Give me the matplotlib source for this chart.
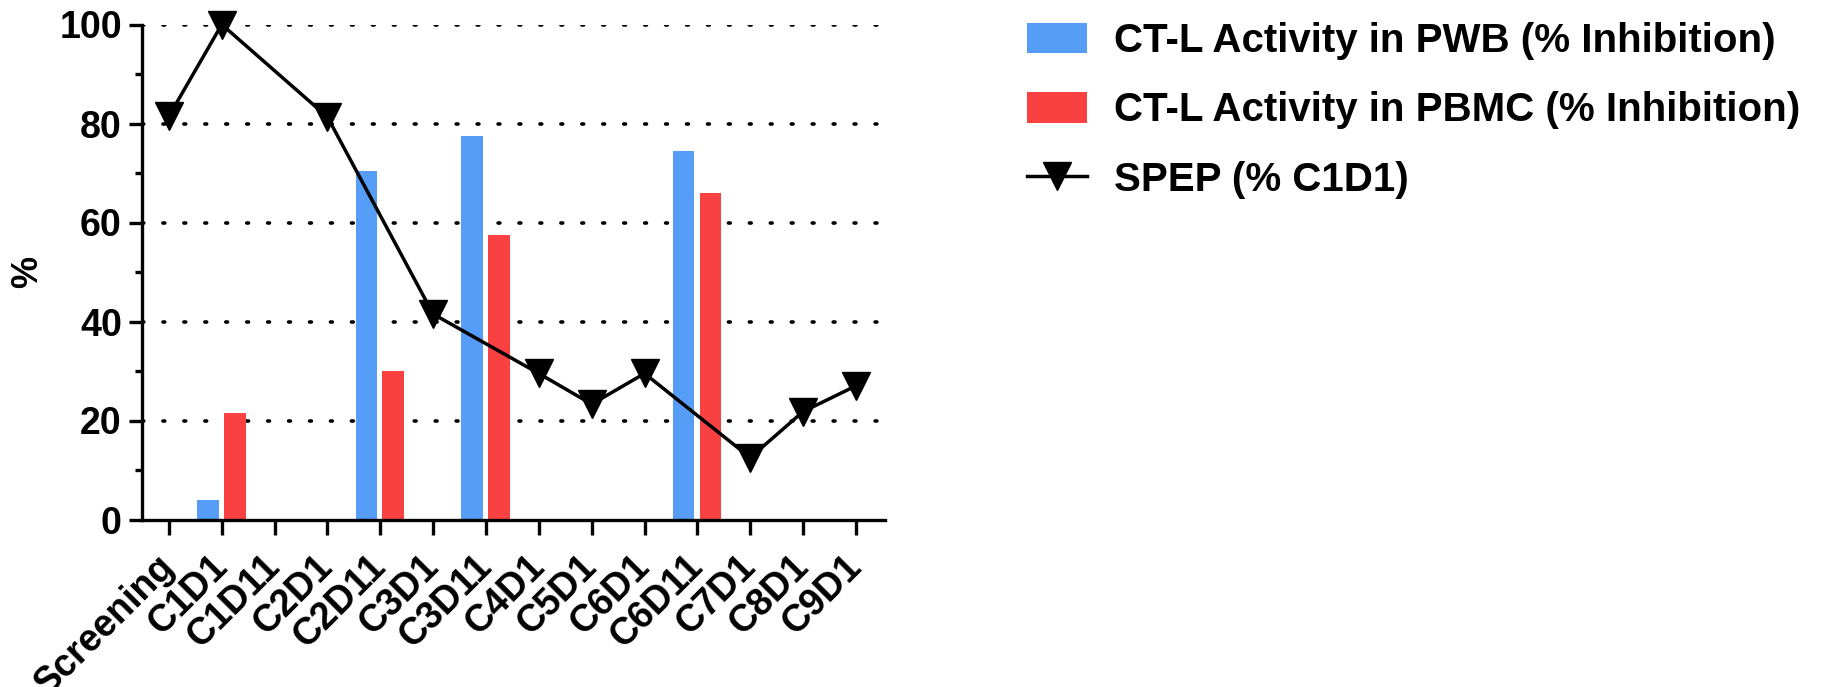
import numpy as np
import matplotlib
matplotlib.use("Agg")
import matplotlib.pyplot as plt
from matplotlib.ticker import MultipleLocator

plt.rcParams['font.family'] = ['Liberation Sans', 'DejaVu Sans']
plt.rcParams['font.weight'] = 'bold'

# ── data ──────────────────────────────────────
visits = ['Screening', 'C1D1', 'C1D11', 'C2D1', 'C2D11', 'C3D1', 'C3D11',
          'C4D1', 'C5D1', 'C6D1', 'C6D11', 'C7D1', 'C8D1', 'C9D1']
pwb  = [np.nan, 4.0, np.nan, np.nan, 70.5, np.nan, 77.4,
        np.nan, np.nan, np.nan, 74.4, np.nan, np.nan, np.nan]
pbmc = [np.nan, 21.5, np.nan, np.nan, 30.0, np.nan, 57.5,
        np.nan, np.nan, np.nan, 66.0, np.nan, np.nan, np.nan]
spep = [81.5, 100.0, np.nan, 81.3, np.nan, 41.5, np.nan,
        29.5, 23.3, 29.5, np.nan, 12.5, 21.8, 27.0]

BLUE = '#559DF7'
RED = '#F94142'

x = np.arange(len(visits))
pwb = np.array(pwb)
pbmc = np.array(pbmc)
spep = np.array(spep)

fig = plt.figure(figsize=(18.27, 6.87), dpi=100)
ax = fig.add_axes([142 / 1827, 1 - 519.5 / 687, 743 / 1827, 495 / 687])

# bars
bw = 0.41
b1 = ax.bar(x - 0.26, np.nan_to_num(pwb), width=bw, color=BLUE,
            label='CT-L Activity in PWB (% Inhibition)', zorder=2)
b2 = ax.bar(x + 0.245, np.nan_to_num(pbmc), width=bw, color=RED,
            label='CT-L Activity in PBMC (% Inhibition)', zorder=2)

# SPEP line, connecting across missing visits
ok = ~np.isnan(spep)
ln, = ax.plot(x[ok], spep[ok], color='black', lw=2.5, marker='v', markersize=20,
              label='SPEP (% C1D1)', zorder=3, clip_on=False)

# dotted gridlines
for gy in [20, 40, 60, 80, 100]:
    ax.axhline(gy, color='black', lw=2.6, linestyle=(0, (0.5, 5.3)),
               dash_capstyle='round', zorder=1)

ax.set_xlim(-0.51, 13.55)
ax.set_ylim(0, 100)
ax.yaxis.set_major_locator(MultipleLocator(20))
ax.yaxis.set_minor_locator(MultipleLocator(10))
ax.set_xticks(x)
ax.set_xticklabels(visits, rotation=45, ha='right', va='center',
                   rotation_mode='anchor', fontsize=27, fontweight='bold')
for lbl in ax.get_yticklabels():
    lbl.set_fontweight('bold')

for s in ['top', 'right']:
    ax.spines[s].set_visible(False)
for s in ['left', 'bottom']:
    ax.spines[s].set_linewidth(2.4)

ax.tick_params(axis='y', which='major', length=9.5, width=2.4, labelsize=27, pad=5)
ax.tick_params(axis='y', which='minor', length=5, width=2.4)
ax.tick_params(axis='x', length=11, width=2.4, pad=19)

ax.set_ylabel('%', fontsize=26, fontweight='bold')
ax.yaxis.set_label_coords(-0.1305, 0.5)

ax.legend([b1, b2, ln], [b1.get_label(), b2.get_label(), ln.get_label()],
          loc='upper left', bbox_to_anchor=(1027 / 1827, 1 - 22 / 687),
          bbox_transform=fig.transFigure, frameon=False,
          handlelength=1.48, handleheight=0.78, handletextpad=0.68,
          labelspacing=0.78, borderpad=0, borderaxespad=0,
          prop={'weight': 'bold', 'size': 29})

fig.savefig('out.png', dpi=100)
